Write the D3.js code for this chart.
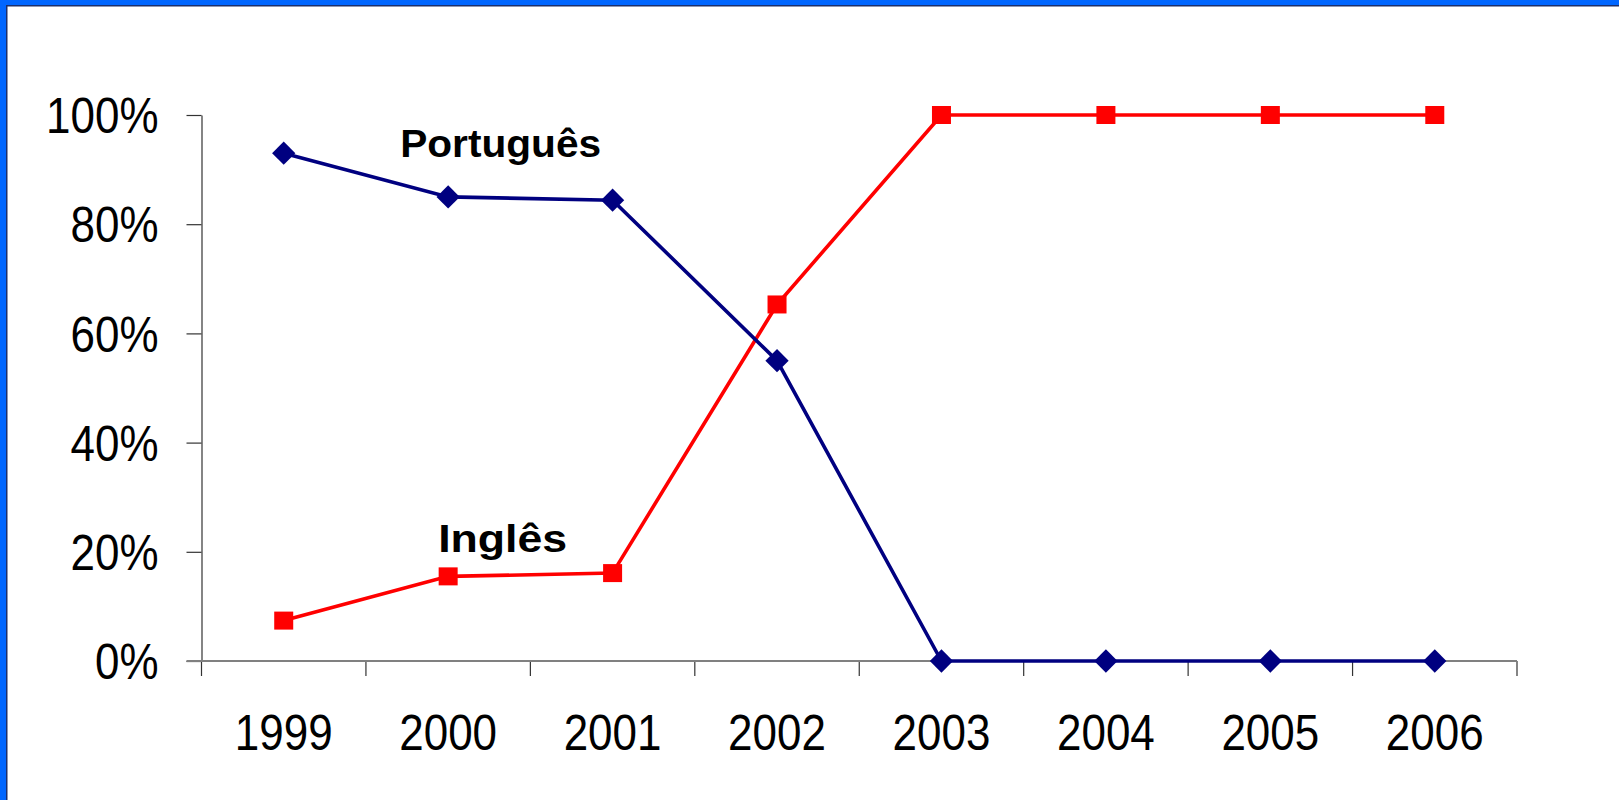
<!DOCTYPE html>
<meta charset="utf-8">
<script src="https://d3js.org/d3.v7.min.js"></script>
<style>
  body { margin: 0; background: #fff; }
  svg { display: block; font-family: "Liberation Sans", Arial, sans-serif; }
</style>
<div id="chart"></div>
<script>

// data
const years = ["1999", "2000", "2001", "2002", "2003", "2004", "2005", "2006"];
const portugues = [93, 85, 84.4, 55, 0, 0, 0, 0];
const ingles = [7.4, 15.5, 16.1, 65.3, 100, 100, 100, 100];
const yTicks = [0, 20, 40, 60, 80, 100];

const W = 1619, H = 800;

const svg = d3.select("#chart")
  .append("svg")
    .attr("width", W)
    .attr("height", H);

// frame: blue band on top and left with a thin dark edge
svg.append("rect").attr("x", 0).attr("y", 0).attr("width", W).attr("height", 5).attr("fill", "#0066ff");
svg.append("rect").attr("x", 0).attr("y", 0).attr("width", 6).attr("height", H).attr("fill", "#0066ff");
svg.append("rect").attr("x", 6).attr("y", 5).attr("width", W - 6).attr("height", 1.5).attr("fill", "#1c2f6b");
svg.append("rect").attr("x", 6).attr("y", 5).attr("width", 1.5).attr("height", H - 5).attr("fill", "#1c2f6b");

const x = d3.scaleBand()
  .domain(years)
  .range([201.5, 1517])
  .padding(0);

const y = d3.scaleLinear()
  .domain([0, 100])
  .range([661, 115]);

const cx = d => x(d) + x.bandwidth() / 2;

// Y axis
const yAxis = svg.append("g")
  .attr("transform", `translate(${x.range()[0]},0)`)
  .call(d3.axisLeft(y).tickValues(yTicks).tickFormat(d => d + "%").tickSize(15).tickPadding(28).tickSizeOuter(0));
yAxis.select(".domain").attr("stroke", "#333").attr("stroke-width", 1.2);
yAxis.selectAll(".tick line").attr("stroke", "#333").attr("stroke-width", 1.2);
yAxis.selectAll(".tick text")
  .attr("font-family", "Liberation Sans, Arial, sans-serif")
  .attr("font-size", 44)
  .attr("fill", "#000")
  .attr("dy", "0.36em")
  .attr("transform", "scale(1,1.12)");

// X axis: labels at centres, ticks on category edges
const xAxis = svg.append("g")
  .attr("transform", `translate(0,${y(0)})`)
  .call(d3.axisBottom(x).tickSize(0).tickPadding(48).tickSizeOuter(0));
xAxis.select(".domain").remove();
xAxis.selectAll(".tick text")
  .attr("font-family", "Liberation Sans, Arial, sans-serif")
  .attr("font-size", 44)
  .attr("fill", "#000")
  .attr("transform", "scale(1,1.12)");

const edges = years.map(d => x(d)).concat([x.range()[1]]);
svg.append("g")
  .selectAll("line")
  .data(edges)
  .join("line")
    .attr("x1", d => d).attr("x2", d => d)
    .attr("y1", y(0)).attr("y2", y(0) + 15)
    .attr("stroke", "#333")
    .attr("stroke-width", 1.2);

svg.append("line")
  .attr("x1", x.range()[0] - 15).attr("x2", x.range()[1])
  .attr("y1", y(0)).attr("y2", y(0))
  .attr("stroke", "#808080")
  .attr("stroke-width", 2.2);

const line = d3.line()
  .x((d, i) => cx(years[i]))
  .y(d => y(d));

// Inglês
svg.append("path")
  .datum(ingles)
  .attr("fill", "none")
  .attr("stroke", "#ff0000")
  .attr("stroke-width", 3.6)
  .attr("d", line);

// Português
svg.append("path")
  .datum(portugues)
  .attr("fill", "none")
  .attr("stroke", "#000080")
  .attr("stroke-width", 3.6)
  .attr("d", line);

svg.append("g")
  .selectAll("rect")
  .data(ingles)
  .join("rect")
    .attr("x", (d, i) => cx(years[i]) - 9.5)
    .attr("y", d => y(d) - 9)
    .attr("width", 19)
    .attr("height", 18)
    .attr("fill", "#ff0000");

svg.append("g")
  .selectAll("path")
  .data(portugues)
  .join("path")
    .attr("d", d3.symbol().type(d3.symbolDiamond2).size(345))
    .attr("transform", (d, i) => `translate(${cx(years[i])},${y(d)})`)
    .attr("fill", "#000080");

// series labels
svg.append("text")
  .attr("x", cx("2000") - 48)
  .attr("y", y(92.3))
  .attr("font-size", 38)
  .attr("font-weight", "bold")
  .attr("textLength", 201)
  .attr("lengthAdjust", "spacingAndGlyphs")
  .text("Português");

svg.append("text")
  .attr("x", cx("2000") - 10)
  .attr("y", y(20))
  .attr("font-size", 38)
  .attr("font-weight", "bold")
  .attr("textLength", 129)
  .attr("lengthAdjust", "spacingAndGlyphs")
  .text("Inglês");

</script>
